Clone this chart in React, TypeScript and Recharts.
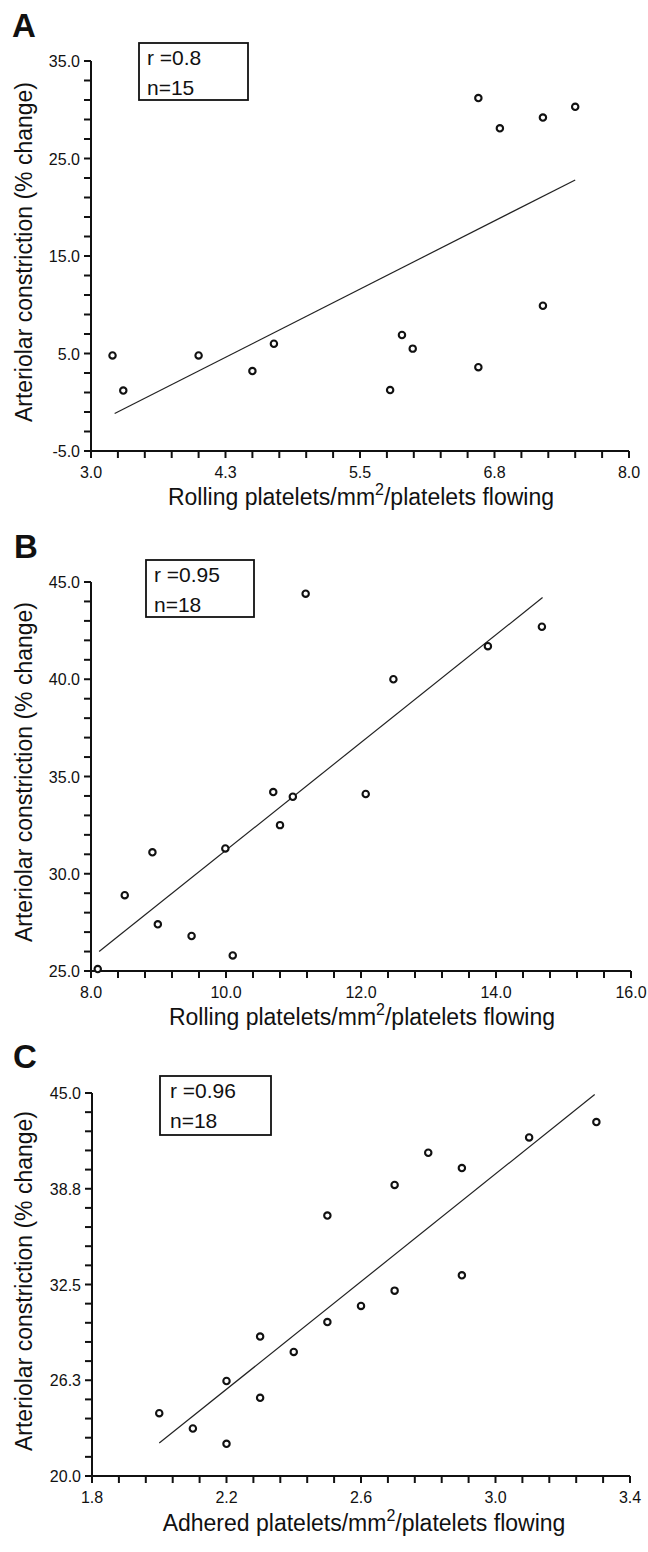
import { ScatterChart, Scatter, XAxis, YAxis, ReferenceLine } from 'recharts';

// panel A: rolling platelets vs arteriolar constriction
const rollingA = [3.2, 3.3, 4.0, 4.5, 4.7, 5.78, 5.89, 5.99, 6.6, 6.6, 6.8, 7.2, 7.5, 7.2];
const constrictionA = [4.8, 1.2, 4.8, 3.2, 6.0, 1.25, 6.9, 5.5, 3.6, 31.2, 28.1, 29.2, 30.3, 9.9];
const fitXA = [3.22, 7.5];
const fitYA = [-1.15, 22.8];
const xTicksA = [3.0, 4.25, 5.5, 6.75, 8.0];
const yTicksA = [-5, 5, 15, 25, 35];
const statsA = ['r =0.8', 'n=15'];

// panel B
const rollingB = [8.1, 8.5, 8.91, 8.99, 9.49, 9.99, 10.1, 10.7, 10.8, 10.99, 11.18, 12.07, 12.48, 13.88, 14.68];
const constrictionB = [25.1, 28.9, 31.1, 27.4, 26.8, 31.3, 25.8, 34.2, 32.5, 33.96, 44.4, 34.1, 40.0, 41.7, 42.7];
const fitXB = [8.12, 14.69];
const fitYB = [26.0, 44.2];
const xTicksB = [8, 10, 12, 14, 16];
const yTicksB = [25, 30, 35, 40, 45];
const statsB = ['r =0.95', 'n=18'];

// panel C: adhered platelets
const adheredC = [2.0, 2.1, 2.2, 2.2, 2.3, 2.3, 2.4, 2.5, 2.5, 2.6, 2.7, 2.7, 2.8, 2.9, 2.9, 3.1, 3.3];
const constrictionC = [24.1, 23.1, 22.1, 26.2, 29.1, 25.1, 28.1, 30.05, 37.0, 31.1, 32.1, 39.0, 41.1, 40.1, 33.1, 42.1, 43.1];
const fitXC = [2.0, 3.295];
const fitYC = [22.15, 44.9];
const xTicksC = [1.8, 2.2, 2.6, 3.0, 3.4];
const yTicksC = [20, 26.25, 32.5, 38.75, 45];
const statsC = ['r =0.96', 'n=18'];

const FONT = '"Liberation Sans", Arial, sans-serif';
const INK = '#111';
const TICK = 6;

// 4 minor ticks between each pair of majors
function withMinor(majors: number[], parts = 5) {
  const out: number[] = [];
  for (let i = 0; i < majors.length - 1; i++) {
    const step = (majors[i + 1] - majors[i]) / parts;
    for (let k = 0; k < parts; k++) out.push(+(majors[i] + k * step).toFixed(6));
  }
  out.push(majors[majors.length - 1]);
  return out;
}

const isMajor = (majors: number[], v: number) => majors.some((m) => Math.abs(m - v) < 1e-6);

const dot = (p: any) => (
  <circle cx={p.cx} cy={p.cy} r={3.2} fill="#fff" stroke={INK} strokeWidth={2.1} />
);

function Panel(props: any) {
  const { xs, ys, fitX, fitY, xMajor, yMajor, stats, letter, xTitle, layout } = props;
  const data = xs.map((x: number, i: number) => ({ x, y: ys[i] }));
  const L = layout;

  // tick mark drawn here too, the label only on majors
  const xTick = (p: any) => (
    <g>
      <line x1={p.x} x2={p.x} y1={p.y - TICK} y2={p.y + 1} stroke={INK} strokeWidth={2} />
      {isMajor(xMajor, p.payload.value) && (
        <text x={p.x} y={p.y + 21} textAnchor="middle" fontFamily={FONT} fontSize={16} fill={INK}>
          {p.payload.value.toFixed(1)}
        </text>
      )}
    </g>
  );

  const yTick = (p: any) => (
    <g>
      <line x1={p.x - 1} x2={p.x + TICK} y1={p.y} y2={p.y} stroke={INK} strokeWidth={2} />
      {isMajor(yMajor, p.payload.value) && (
        <text x={p.x - 5} y={p.y} dy="0.38em" textAnchor="end" fontFamily={FONT} fontSize={16} fill={INK}>
          {p.payload.value.toFixed(1)}
        </text>
      )}
    </g>
  );

  return (
    <div style={{ position: 'absolute', left: 0, top: L.top }}>
      <ScatterChart width={648} height={L.height} margin={L.margin}>
        <XAxis
          type="number"
          dataKey="x"
          domain={[xMajor[0], xMajor[xMajor.length - 1]]}
          ticks={withMinor(xMajor)}
          interval={0}
          tick={xTick}
          tickSize={TICK}
          tickMargin={0}
          height={30}
          axisLine={{ stroke: INK, strokeWidth: 2 }}
          tickLine={false}
        />
        <YAxis
          type="number"
          dataKey="y"
          domain={[yMajor[0], yMajor[yMajor.length - 1]]}
          ticks={withMinor(yMajor)}
          interval={0}
          tick={yTick}
          tickSize={TICK}
          tickMargin={0}
          width={60}
          axisLine={{ stroke: INK, strokeWidth: 2 }}
          tickLine={false}
        />
        <ReferenceLine
          segment={[
            { x: fitX[0], y: fitY[0] },
            { x: fitX[1], y: fitY[1] },
          ]}
          stroke="#222"
          strokeWidth={1.2}
          ifOverflow="visible"
        />
        <Scatter data={data} shape={dot} isAnimationActive={false} />

        <text x={L.letter[0]} y={L.letter[1]} fontFamily={FONT} fontWeight="bold" fontSize={33} fill={INK}>
          {letter}
        </text>
        <rect x={L.box[0]} y={L.box[1]} width={L.box[2]} height={L.box[3]} fill="#fff" stroke={INK} strokeWidth={1.8} />
        <text x={L.statX} y={L.box[1] + 22} fontFamily={FONT} fontSize={21} fill={INK}>
          {stats[0]}
        </text>
        <text x={L.statX} y={L.box[1] + 52} fontFamily={FONT} fontSize={21} fill={INK}>
          {stats[1]}
        </text>
        <text x={L.xTitle[0]} y={L.xTitle[1]} textAnchor="middle" fontFamily={FONT} fontSize={23} fill={INK}>
          <tspan>{xTitle}/mm</tspan>
          <tspan dy={-10} fontSize={16}>2</tspan>
          <tspan dy={10}>/platelets flowing</tspan>
        </text>
        <text
          x={32}
          y={L.yTitleY}
          transform={`rotate(-90 32 ${L.yTitleY})`}
          textAnchor="middle"
          fontFamily={FONT}
          fontSize={23}
          fill={INK}
        >
          Arteriolar constriction (% change)
        </text>
      </ScatterChart>
    </div>
  );
}

const layoutA = {
  top: 0,
  height: 520,
  margin: { top: 61, right: 19, bottom: 39, left: 31 },
  letter: [12, 37],
  box: [139, 43, 109, 57],
  statX: 147,
  xTitle: [361, 505],
  yTitleY: 252,
};
const layoutB = {
  top: 520,
  height: 515,
  margin: { top: 62, right: 17, bottom: 34, left: 31 },
  letter: [14, 38],
  box: [146, 40, 108, 57],
  statX: 154,
  xTitle: [362, 505],
  yTitleY: 252,
};
const layoutC = {
  top: 1035,
  height: 517,
  margin: { top: 58, right: 18, bottom: 46, left: 32 },
  letter: [13, 33],
  box: [160, 41, 111, 59],
  statX: 170,
  xTitle: [364, 496],
  yTitleY: 246,
};

export default function App() {
  return (
    <div style={{ position: 'absolute', left: 0, top: 0, width: 648, height: 1552, background: '#fff' }}>
      <Panel
        xs={rollingA}
        ys={constrictionA}
        fitX={fitXA}
        fitY={fitYA}
        xMajor={xTicksA}
        yMajor={yTicksA}
        stats={statsA}
        letter="A"
        xTitle="Rolling platelets"
        layout={layoutA}
      />
      <Panel
        xs={rollingB}
        ys={constrictionB}
        fitX={fitXB}
        fitY={fitYB}
        xMajor={xTicksB}
        yMajor={yTicksB}
        stats={statsB}
        letter="B"
        xTitle="Rolling platelets"
        layout={layoutB}
      />
      <Panel
        xs={adheredC}
        ys={constrictionC}
        fitX={fitXC}
        fitY={fitYC}
        xMajor={xTicksC}
        yMajor={yTicksC}
        stats={statsC}
        letter="C"
        xTitle="Adhered platelets"
        layout={layoutC}
      />
    </div>
  );
}
